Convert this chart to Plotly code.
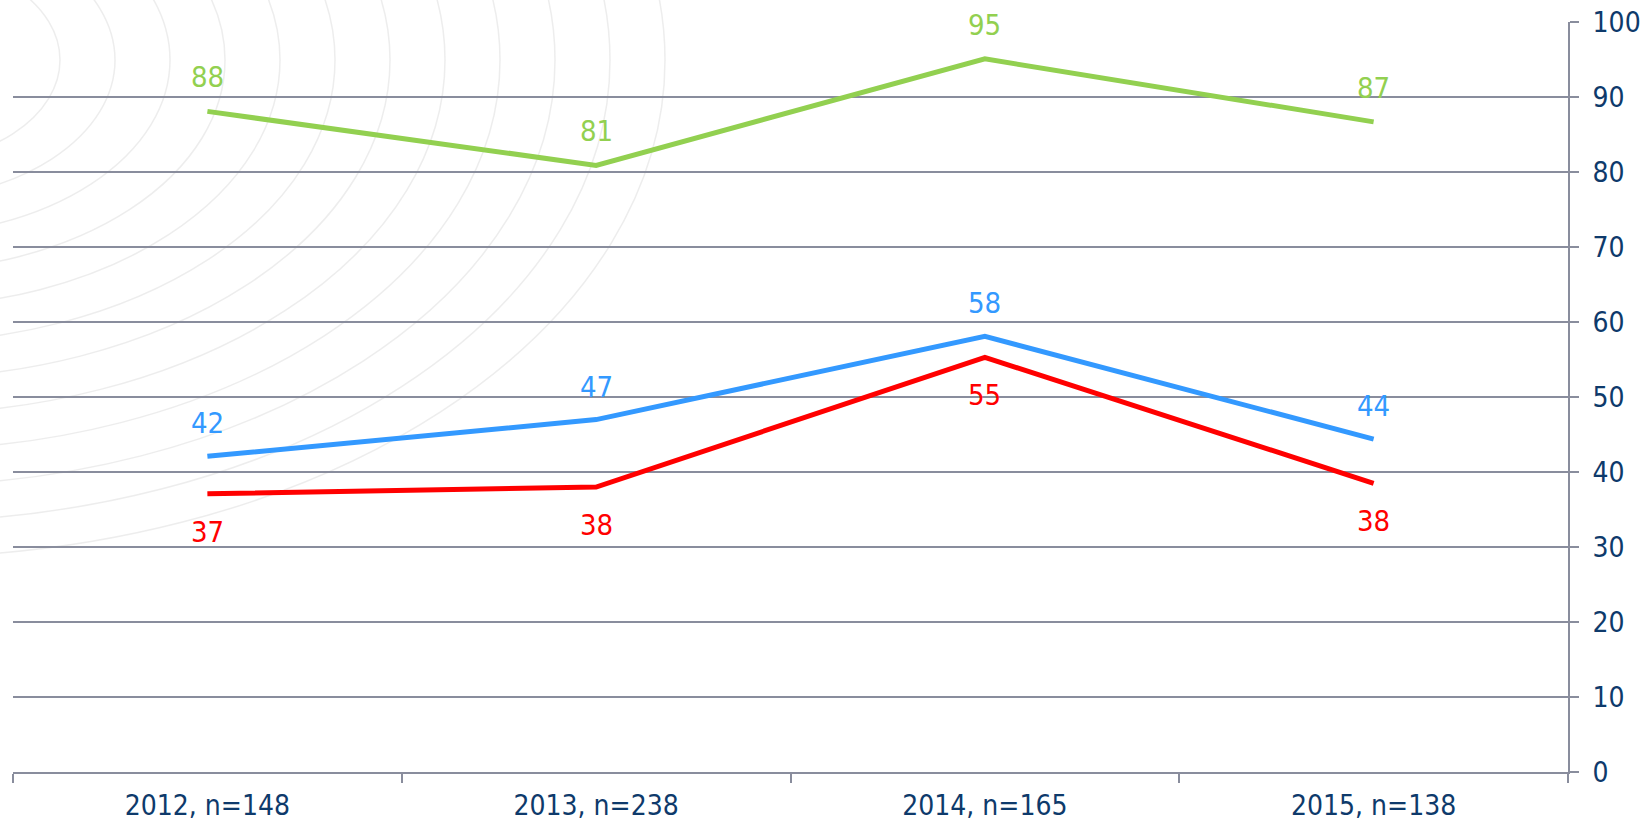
import plotly.graph_objects as go

categories = ["2012, n=148", "2013, n=238", "2014, n=165", "2015, n=138"]
green_vals = [88.1, 80.9, 95.1, 86.7]
green_text = ["88", "81", "95", "87"]
blue_vals = [42.1, 47.0, 58.1, 44.4]
blue_text = ["42", "47", "58", "44"]
red_vals = [37.1, 38.0, 55.3, 38.5]
red_text = ["37", "38", "55", "38"]
y_ticks = [0, 10, 20, 30, 40, 50, 60, 70, 80, 90, 100]

GREEN = "#92D050"
BLUE = "#3399FF"
RED = "#FF0000"
GRID = "#898D9D"
TXT = "#0E3A6B"
FONT = "DejaVu Sans Condensed, Noto Sans, sans-serif"

fig = go.Figure()
for vals, col in [(green_vals, GREEN), (blue_vals, BLUE), (red_vals, RED)]:
    fig.add_trace(go.Scatter(x=categories, y=vals, mode="lines",
                             line=dict(color=col, width=5),
                             hoverinfo="skip", showlegend=False))

annotations = []
for vals, texts, col, shift in [(green_vals, green_text, GREEN, 34),
                                (blue_vals, blue_text, BLUE, 33),
                                (red_vals, red_text, RED, -38)]:
    for c, v, t in zip(categories, vals, texts):
        annotations.append(dict(x=c, y=v, text=t, showarrow=False, yshift=shift,
                                font=dict(family=FONT, size=29, color=col)))

# faint decorative watermark arcs (page pixel geometry -> paper coords)
W, H = 1648, 822
PX0, PX1, PY0, PY1 = 13, 1568, 22, 772
def px(x):
    return (x - PX0) / (PX1 - PX0)
def py(y):
    return 1 - (y - PY0) / (PY1 - PY0)

shapes = []
cx, cy = -100, 60
for rx in range(160, 800, 55):
    ry = 0.65 * rx
    shapes.append(dict(type="circle", xref="paper", yref="paper", layer="below",
                       x0=px(cx - rx), x1=px(cx + rx), y0=py(cy + ry), y1=py(cy - ry),
                       line=dict(color="rgba(190,190,190,0.28)", width=1.5)))

fig.update_layout(
    template="none",
    width=W, height=H,
    margin=dict(l=PX0, r=W - PX1, t=PY0, b=H - PY1, pad=0, autoexpand=False),
    paper_bgcolor="white", plot_bgcolor="rgba(0,0,0,0)",
    font=dict(family=FONT, size=28, color=TXT),
    annotations=annotations,
    shapes=shapes,
    xaxis=dict(type="category", range=[-0.5, 3.5], tickson="boundaries",
               ticks="outside", ticklen=9, tickwidth=2, tickcolor=GRID,
               showline=True, linecolor=GRID, linewidth=2, showgrid=False,
               zeroline=False, automargin=False,
               tickfont=dict(family=FONT, size=28, color=TXT),
               ticklabelstandoff=7, ticklabeloverflow="allow"),
    yaxis=dict(side="right", range=[0, 100.02], tickvals=y_ticks,
               ticktext=[str(v) for v in y_ticks],
               ticks="outside", ticklen=9, tickwidth=2, tickcolor=GRID,
               showline=True, linecolor=GRID, linewidth=2,
               showgrid=True, gridcolor=GRID, gridwidth=2, zeroline=False,
               automargin=False,
               tickfont=dict(family=FONT, size=28, color=TXT),
               ticklabelstandoff=8, ticklabeloverflow="allow"),
)

fig.write_html("out.html", config={"displayModeBar": False},
               post_script="document.body.style.margin='0';document.body.style.overflow='hidden';")
